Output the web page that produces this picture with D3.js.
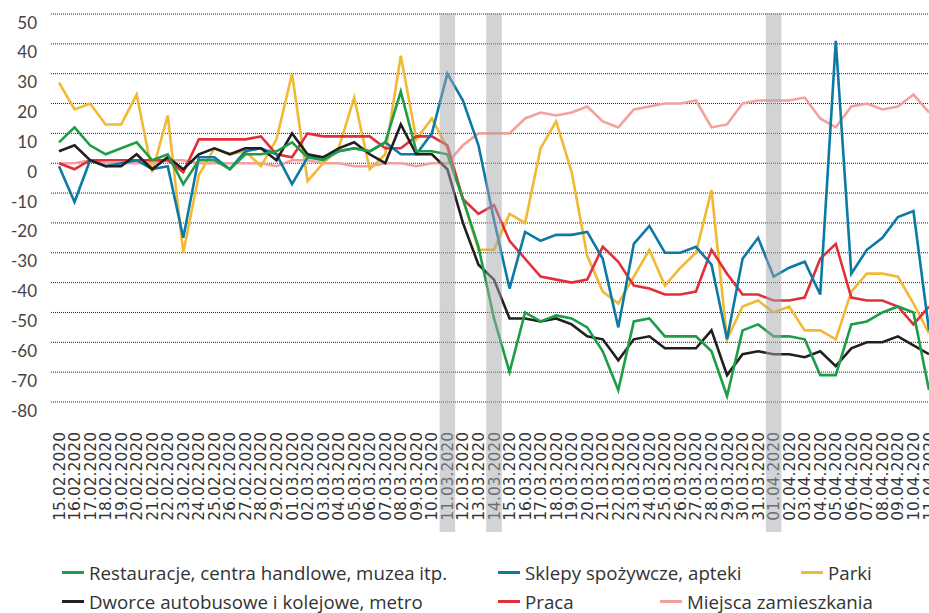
<!DOCTYPE html>
<html>
<head>
<meta charset="utf-8">
<script src="https://cdn.jsdelivr.net/npm/d3@7"></script>
<style>
  body { margin: 0; background: #fff; }
  svg { display: block; }
</style>
</head>
<body>
<script>
// dzienne daty 15.02 - 11.04.2020
let dates = [
  "15.02.2020","16.02.2020","17.02.2020","18.02.2020","19.02.2020","20.02.2020","21.02.2020",
  "22.02.2020","23.02.2020","24.02.2020","25.02.2020","26.02.2020","27.02.2020","28.02.2020",
  "29.02.2020","01.03.2020","02.03.2020","03.03.2020","04.03.2020","05.03.2020","06.03.2020",
  "07.03.2020","08.03.2020","09.03.2020","10.03.2020","11.03.2020","12.03.2020","13.03.2020",
  "14.03.2020","15.03.2020","16.03.2020","17.03.2020","18.03.2020","19.03.2020","20.03.2020",
  "21.03.2020","22.03.2020","23.03.2020","24.03.2020","25.03.2020","26.03.2020","27.03.2020",
  "28.03.2020","29.03.2020","30.03.2020","31.03.2020","01.04.2020","02.04.2020","03.04.2020",
  "04.04.2020","05.04.2020","06.04.2020","07.04.2020","08.04.2020","09.04.2020","10.04.2020",
  "11.04.2020"
];
let highlighted = ["11.03.2020", "14.03.2020", "01.04.2020"];
let yTicks = [50, 40, 30, 20, 10, 0, -10, -20, -30, -40, -50, -60, -70, -80];

let restauracje = [7,12,6,3,5,7,1,3,-7,1,1,-2,3,3,4,7,2,
  1,4,5,4,7,24,4,4,3,
  -12,-28,-52,-70,-50,-53,-51,-52,-55,-63,-76,
  -53,-52,-58,-58,-58,-63,-78,-56,-54,-58,-58,-59,-71,-71,-54,-53,-50,-48,-50,-76];
let sklepy = [-1,-13,1,-1,0,1,-2,-1,-25,2,2,-2,4,5,3,-7,2,
  2,4,5,4,7,3,3,10,30,
  21,6,-19,-42,-23,-26,-24,-24,-23,-32,-55,
  -27,-21,-30,-30,-28,-34,-59,-32,-25,-38,-35,-33,-44,41,-37,-29,-25,-18,-16,-56];
let parki = [27,18,20,13,13,23,-3,16,-30,-4,5,3,4,-1,8,30,-6,
  0,5,22,-2,3,36,8,15,5,
  -12,-29,-29,-17,-20,5,14,-3,-31,-43,-47,
  -38,-29,-41,-35,-30,-9,-59,-48,-46,-50,-48,-56,-56,-59,-43,-37,-37,-38,-47,-57];
let dworce = [4,6,1,-1,-1,3,-2,2,-2,3,5,3,5,5,1,10,3,
  2,5,7,3,0,13,3,3,-2,
  -20,-34,-39,-52,-52,-53,-52,-54,-58,-59,-66,
  -59,-58,-62,-62,-62,-56,-71,-64,-63,-64,-64,-65,-63,-68,-62,-60,-60,-58,-61,-64];
let praca = [0,-2,1,1,1,1,1,1,-3,8,8,8,8,9,3,2,10,
  9,9,9,9,5,5,9,9,6,
  -12,-17,-14,-26,-32,-38,-39,-40,-39,-28,-33,
  -41,-42,-44,-44,-43,-29,-37,-44,-44,-46,-46,-45,-32,-27,-45,-46,-46,-48,-54,-48];
let zamieszkanie = [0,0,1,0,0,0,0,1,1,0,0,0,0,0,-1,1,1,
  0,0,-1,-1,0,0,-1,0,0,
  6,10,10,10,15,17,16,17,19,14,12,
  18,19,20,20,21,12,13,20,21,21,21,22,15,12,19,20,18,19,23,17];

let series = [
  {name: "Miejsca zamieszkania", values: zamieszkanie, color: "#f4a09c"},
  {name: "Parki", values: parki, color: "#f2b935"},
  {name: "Praca", values: praca, color: "#e2303b"},
  {name: "Sklepy spożywcze, apteki", values: sklepy, color: "#0d7aa6"},
  {name: "Dworce autobusowe i kolejowe, metro", values: dworce, color: "#231f20"},
  {name: "Restauracje, centra handlowe, muzea itp.", values: restauracje, color: "#1e9d48"}
];

let legendRows = [
  [{name: "Restauracje, centra handlowe, muzea itp.", color: "#1e9d48", x: 62},
   {name: "Sklepy spożywcze, apteki", color: "#0d7aa6", x: 498},
   {name: "Parki", color: "#f2b935", x: 801}],
  [{name: "Dworce autobusowe i kolejowe, metro", color: "#231f20", x: 62},
   {name: "Praca", color: "#e2303b", x: 498},
   {name: "Miejsca zamieszkania", color: "#f4a09c", x: 660}]
];

let size = {width: 929, height: 613};
let svg = d3.select("body").append("svg")
    .attr("width", size.width).attr("height", size.height);

let x = d3.scalePoint().domain(dates).range([59, 929]);
let y = d3.scaleLinear().domain([-80, 50]).range([402, 14]);
let step = x.step();

// siatka
let grid = svg.append("g");
grid.selectAll("line").data(yTicks).join("line")
    .attr("x1", 51).attr("x2", size.width)
    .attr("y1", d => y(d)).attr("y2", d => y(d))
    .attr("stroke", "#222").attr("stroke-width", 1)
    .attr("stroke-dasharray", "1,1");

grid.selectAll("text").data(yTicks).join("text")
    .attr("x", 37).attr("y", d => y(d) + 14.5)
    .attr("text-anchor", "end")
    .attr("font-family", "Lato, 'Open Sans', sans-serif")
    .attr("font-size", 17)
    .attr("fill", "#444")
    .text(d => d);

// linie
let line = d3.line()
    .x((d, i) => x(dates[i]))
    .y(d => y(d));

svg.append("g").selectAll("path").data(series).join("path")
    .attr("d", d => line(d.values))
    .attr("fill", "none")
    .attr("stroke", d => d.color)
    .attr("stroke-width", 2.6)
    .attr("stroke-linejoin", "miter");

// etykiety dat
svg.append("g").selectAll("text").data(dates).join("text")
    .attr("transform", d => `translate(${x(d) + 5.5},432) rotate(-90)`)
    .attr("text-anchor", "end")
    .attr("font-family", "'DejaVu Sans', sans-serif")
    .attr("font-size", 15.5)
    .attr("fill", "#333")
    .text(d => d);

// szare pasy
svg.append("g").selectAll("rect").data(highlighted).join("rect")
    .attr("x", d => x(d) - step / 2)
    .attr("y", 13)
    .attr("width", step)
    .attr("height", 519)
    .attr("fill", "#a6a8ab")
    .attr("opacity", 0.5);

// legenda
let legend = svg.append("g");
legendRows.forEach((row, r) => {
  let yy = 580 + r * 29;
  row.forEach(item => {
    legend.append("line")
        .attr("x1", item.x).attr("x2", item.x + 22)
        .attr("y1", yy - 7.5).attr("y2", yy - 7.5)
        .attr("stroke", item.color).attr("stroke-width", 3);
    legend.append("text")
        .attr("x", item.x + 27).attr("y", yy)
        .attr("font-family", "'Open Sans', Roboto, sans-serif")
        .attr("font-size", 18.7)
        .attr("fill", "#333")
        .text(item.name);
  });
});
</script>
</body>
</html>
